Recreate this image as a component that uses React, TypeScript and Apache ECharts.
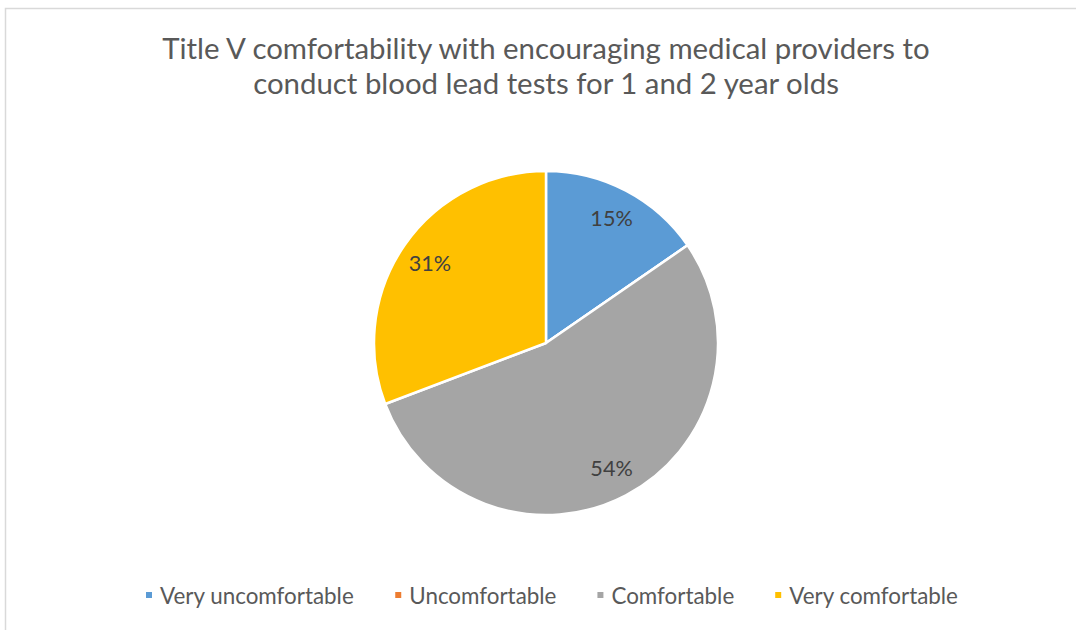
import React, { useEffect, useRef } from "react";
import * as echarts from "echarts";

const categories = ["Very uncomfortable", "Uncomfortable", "Comfortable", "Very comfortable"];
const counts = [2, 0, 7, 4];
const colors = ["#5B9BD5", "#ED7D31", "#A5A5A5", "#FFC000"];
const titleLines = [
  "Title V comfortability with encouraging medical providers to",
  "conduct blood lead tests for 1 and 2 year olds",
];

const FONT = "Lato, 'Open Sans', sans-serif";

export default function App() {
  const ref = useRef<HTMLDivElement>(null);
  useEffect(() => {
    document.body.style.margin = "0";
    const chart = echarts.init(ref.current!, null, { renderer: "svg" });
    const data = categories.map((name, i) => ({
      name,
      value: counts[i],
      itemStyle: { color: colors[i] },
    }));
    const fmt = (p: any) => (p.value === 0 ? "" : Math.round(p.percent) + "%");
    chart.setOption({
      animation: false,
      backgroundColor: "#ffffff",
      textStyle: { fontFamily: FONT },
      title: {
        text: titleLines.join("\n"),
        left: 541,
        textAlign: "center",
        top: 25,
        textStyle: {
          fontFamily: FONT,
          fontSize: 29.4,
          fontWeight: "normal",
          color: "#595959",
          lineHeight: 35,
        },
      },
      legend: {
        bottom: 19,
        left: 139,
        icon: "rect",
        itemWidth: 8,
        itemHeight: 8,
        itemGap: 39,
        data: categories,
        textStyle: { fontFamily: FONT, fontSize: 22.4, color: "#595959", padding: [0, 0, 0, 2] },
      },
      graphic: [
        {
          type: "rect",
          shape: { x: 5.5, y: 8.5, width: 1100, height: 700 },
          style: { fill: "none", stroke: "#d9d9d9", lineWidth: 1.5 },
          silent: true,
        },
      ],
      series: [
        {
          type: "pie",
          center: [546, 343],
          radius: [0, 172],
          startAngle: 90,
          clockwise: true,
          data,
          itemStyle: { borderColor: "#ffffff", borderWidth: 2.5 },
          label: { show: false },
          labelLine: { show: false },
          emphasis: { disabled: true },
        },
        {
          type: "pie",
          center: [546, 343],
          radius: [104, 172],
          startAngle: 90,
          clockwise: true,
          silent: true,
          data: categories.map((name, i) => ({ name, value: counts[i] })),
          itemStyle: { color: "rgba(0,0,0,0)", borderWidth: 0 },
          label: {
            show: true,
            position: "inside",
            formatter: fmt,
            fontFamily: FONT,
            fontSize: 21.6,
            color: "#404040",
          },
          labelLine: { show: false },
          emphasis: { disabled: true },
        },
      ],
    });
    return () => chart.dispose();
  }, []);
  return <div ref={ref} style={{ width: 1076, height: 630 }} />;
}
